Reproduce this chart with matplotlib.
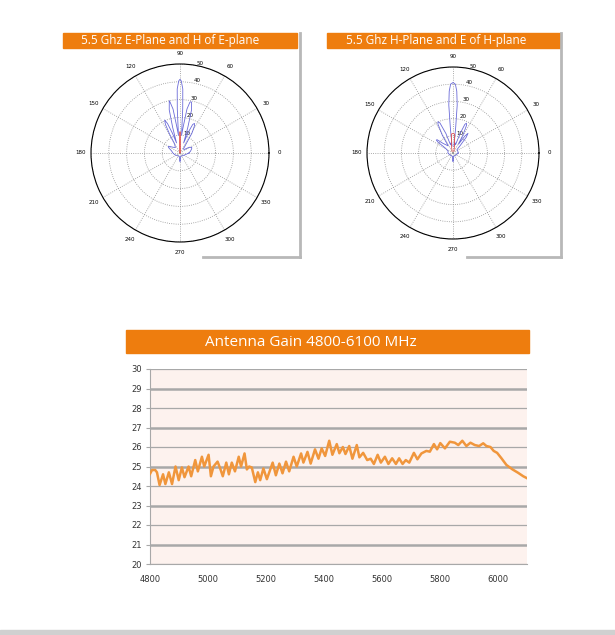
import numpy as np
import matplotlib
matplotlib.use("Agg")
import matplotlib.pyplot as plt
from matplotlib.patches import Rectangle

# ------------ data ------------

# gain curve 4800-6100 MHz
freq_mhz = [4800, 4807, 4818, 4824, 4833, 4845, 4853, 4865, 4876, 4888, 4899, 4910,
            4919, 4933, 4942, 4956, 4965, 4979, 4987, 5002, 5010, 5019, 5033, 5042,
            5051, 5063, 5072, 5082, 5093, 5106, 5114, 5126, 5134, 5142, 5151, 5163,
            5172, 5180, 5191, 5203, 5223, 5234, 5246, 5257, 5269, 5280, 5295, 5306,
            5321, 5329, 5343, 5354, 5369, 5381, 5392, 5404, 5418, 5429, 5444, 5453,
            5465, 5474, 5487, 5498, 5513, 5522, 5535, 5549, 5561, 5572, 5585, 5596,
            5610, 5622, 5635, 5648, 5659, 5671, 5682, 5694, 5710, 5722, 5736, 5753,
            5765, 5779, 5790, 5801, 5817, 5834, 5851, 5863, 5877, 5891, 5905, 5920,
            5935, 5949, 5960, 5974, 5985, 5997, 6012, 6029, 6050, 6069, 6087, 6100]
gain_db = [24.62, 24.82, 24.82, 24.7, 24.05, 24.6, 24.1, 24.7, 24.1, 25.0, 24.3, 24.95,
           24.45, 25.0, 24.5, 25.33, 24.75, 25.5, 25.0, 25.6, 24.5, 25.0, 25.25, 24.9,
           24.5, 25.2, 24.6, 25.2, 24.75, 25.5, 25.0, 25.67, 24.85, 25.0, 24.95, 24.2,
           24.7, 24.3, 24.9, 24.35, 25.2, 24.55, 25.15, 24.65, 25.25, 24.75, 25.5, 25.0,
           25.67, 25.2, 25.75, 25.15, 25.88, 25.4, 25.93, 25.54, 26.32, 25.6, 26.15, 25.68,
           26.0, 25.64, 26.05, 25.4, 26.1, 25.47, 25.7, 25.33, 25.4, 25.13, 25.6, 25.2,
           25.5, 25.13, 25.42, 25.13, 25.42, 25.13, 25.33, 25.2, 25.7, 25.37, 25.67, 25.8,
           25.76, 26.15, 25.88, 26.2, 25.93, 26.27, 26.22, 26.1, 26.32, 26.05, 26.22, 26.1,
           26.05, 26.19, 26.05, 26.0, 25.8, 25.7, 25.42, 25.08, 24.85, 24.68, 24.5, 24.4]

x_ticks = [4800, 5000, 5200, 5400, 5600, 5800, 6000]
y_ticks = [20, 21, 22, 23, 24, 25, 26, 27, 28, 29, 30]

# E-plane pattern (blue) and cross-pol (red), angle in degrees
e_ang = [0, 10, 20, 26, 32, 40, 50, 56, 59, 62, 64, 66, 68, 70, 73, 75, 77, 78, 79,
         81, 83, 85, 86.5, 87.5, 89, 90, 91, 92.5, 93.5, 95, 97, 99, 101, 101.5, 102,
         104, 106, 109, 111, 113, 115, 117, 119, 121, 130, 140, 148, 151, 155, 165,
         180, 200, 230, 260, 266, 270, 274, 280, 310, 340, 360]
e_rad = [5, 6, 7, 7.3, 6, 3, 3, 6, 13, 17.5, 18.5, 17.5, 13, 6, 15, 25, 29, 29.5, 29,
         25, 15, 10, 25, 36, 40.5, 41.4, 40.5, 36, 25, 10, 15, 25, 29, 30, 29,
         25, 15, 6, 12, 18, 20.5, 18, 12, 6, 4, 5, 7, 7.5, 7, 5,
         4, 3, 2, 2, 4, 5, 4, 2, 2, 3, 5]
e_x_ang = [85, 89, 89.5, 90, 90.5, 91, 95]
e_x_rad = [0, 1, 11.5, 12, 11.5, 1, 0]

# H-plane pattern (blue) and cross-pol (red)
h_ang = [0, 20, 40, 46, 50, 52.7, 55, 58, 61, 64, 65.8, 67.5, 70, 73, 78, 82, 84, 85,
         86.5, 88, 90, 92, 93.5, 95, 96, 98, 102, 107, 110, 113.5, 115.6, 117.5, 121,
         124, 136, 140, 142, 144, 148, 160, 180, 220, 262, 268, 270, 272, 278, 320, 360]
h_rad = [3, 3, 3, 6, 12, 14.4, 12, 6, 12, 18, 19, 18, 12, 5, 6, 4, 15, 28,
         36, 40, 41, 40, 36, 28, 15, 4, 6, 5, 12, 19, 20.2, 19, 12,
         5, 8, 12, 12.3, 11, 5, 3, 3, 2, 2, 4, 5, 4, 2, 2, 3]
h_x_ang = [60, 75, 85, 90, 95, 105, 120]
h_x_rad = [1, 3, 11, 11.4, 11, 3, 1]

r_rings = [10, 20, 30, 40, 50]
theta_labels = [0, 30, 60, 90, 120, 150, 180, 210, 240, 270, 300, 330]

# ------------ figure ------------

W, H = 615, 635
fig = plt.figure(figsize=(W / 100, H / 100), dpi=100)
ORANGE = "#ee7d0e"


def px_rect(x0, y0, x1, y1):
    return [x0 / W, 1 - y1 / H, (x1 - x0) / W, (y1 - y0) / H]


# background layer in pixel coords
bg = fig.add_axes([0, 0, 1, 1], zorder=-10)
bg.set_xlim(0, W)
bg.set_ylim(H, 0)
bg.axis("off")

# panel shadows
bg.plot([300, 300], [33, 257], color="#b8b8b8", lw=2)
bg.plot([203, 300], [257, 257], color="#b8b8b8", lw=2)
bg.plot([561, 561], [33, 257], color="#b8b8b8", lw=2)
bg.plot([467, 561], [257, 257], color="#b8b8b8", lw=2)
# title bars
bg.add_patch(Rectangle((63, 33), 234, 15, color=ORANGE))
bg.add_patch(Rectangle((327, 33), 233, 15, color=ORANGE))
bg.add_patch(Rectangle((126, 330), 403, 23, color=ORANGE))
bg.text(81, 40.5, "5.5 Ghz E-Plane and H of E-plane", color="white",
        fontsize=8.5, family="Open Sans", va="center", ha="left")
bg.text(346, 40.5, "5.5 Ghz H-Plane and E of H-plane", color="white",
        fontsize=8.5, family="Open Sans", va="center", ha="left")
bg.text(311, 342, "Antenna Gain 4800-6100 MHz", color="white",
        fontsize=11, family="Open Sans", va="center", ha="center")
# grey strip at the bottom
bg.add_patch(Rectangle((0, 630), W, 5, color="#d0d0d0"))


def polar_panel(rect, ang, rad, x_ang, x_rad):
    ax = fig.add_axes(rect, projection="polar")
    ax.plot(np.deg2rad(ang), rad, color="#6a6ad8", lw=0.6)
    ax.plot(np.deg2rad(x_ang), x_rad, color="#e05050", lw=0.6)
    ax.set_ylim(0, 50)
    ax.set_thetagrids(theta_labels, [str(t) for t in theta_labels], fontsize=4)
    ax.set_rgrids(r_rings, [str(r) for r in r_rings], angle=79, fontsize=4)
    ax.tick_params(axis="x", pad=-3)
    ax.grid(True, linestyle=":", color="#909090", lw=0.6)
    ax.spines["polar"].set_linewidth(0.8)
    ax.set_facecolor("none")
    return ax


polar_panel(px_rect(91, 64, 269, 242), e_ang, e_rad, e_x_ang, e_x_rad)
polar_panel(px_rect(367, 67, 539, 239), h_ang, h_rad, h_x_ang, h_x_rad)

# ------------ gain chart ------------

ax = fig.add_axes(px_rect(150, 369, 527, 564))
ax.set_facecolor("#fdf2ee")
for y in y_ticks:
    ax.axhline(y, color="#a8a8a8", lw=1.8 if y % 2 == 1 else 0.9, zorder=1)
ax.plot(freq_mhz, gain_db, color="#f0963c", lw=1.8, zorder=3,
        solid_joinstyle="round")
ax.set_xlim(4800, 6100)
ax.set_ylim(20, 30)
ax.set_xticks(x_ticks)
ax.set_yticks(y_ticks)
ax.tick_params(axis="both", labelsize=6, colors="#333333")
ax.tick_params(axis="x", length=0, pad=8)
ax.tick_params(axis="y", length=3, color="#a8a8a8", width=0.8, pad=3)
for s in ["top", "right"]:
    ax.spines[s].set_visible(False)
ax.spines["left"].set_color("#a8a8a8")
ax.spines["bottom"].set_color("#a8a8a8")

fig.savefig("out.png", dpi=100)
